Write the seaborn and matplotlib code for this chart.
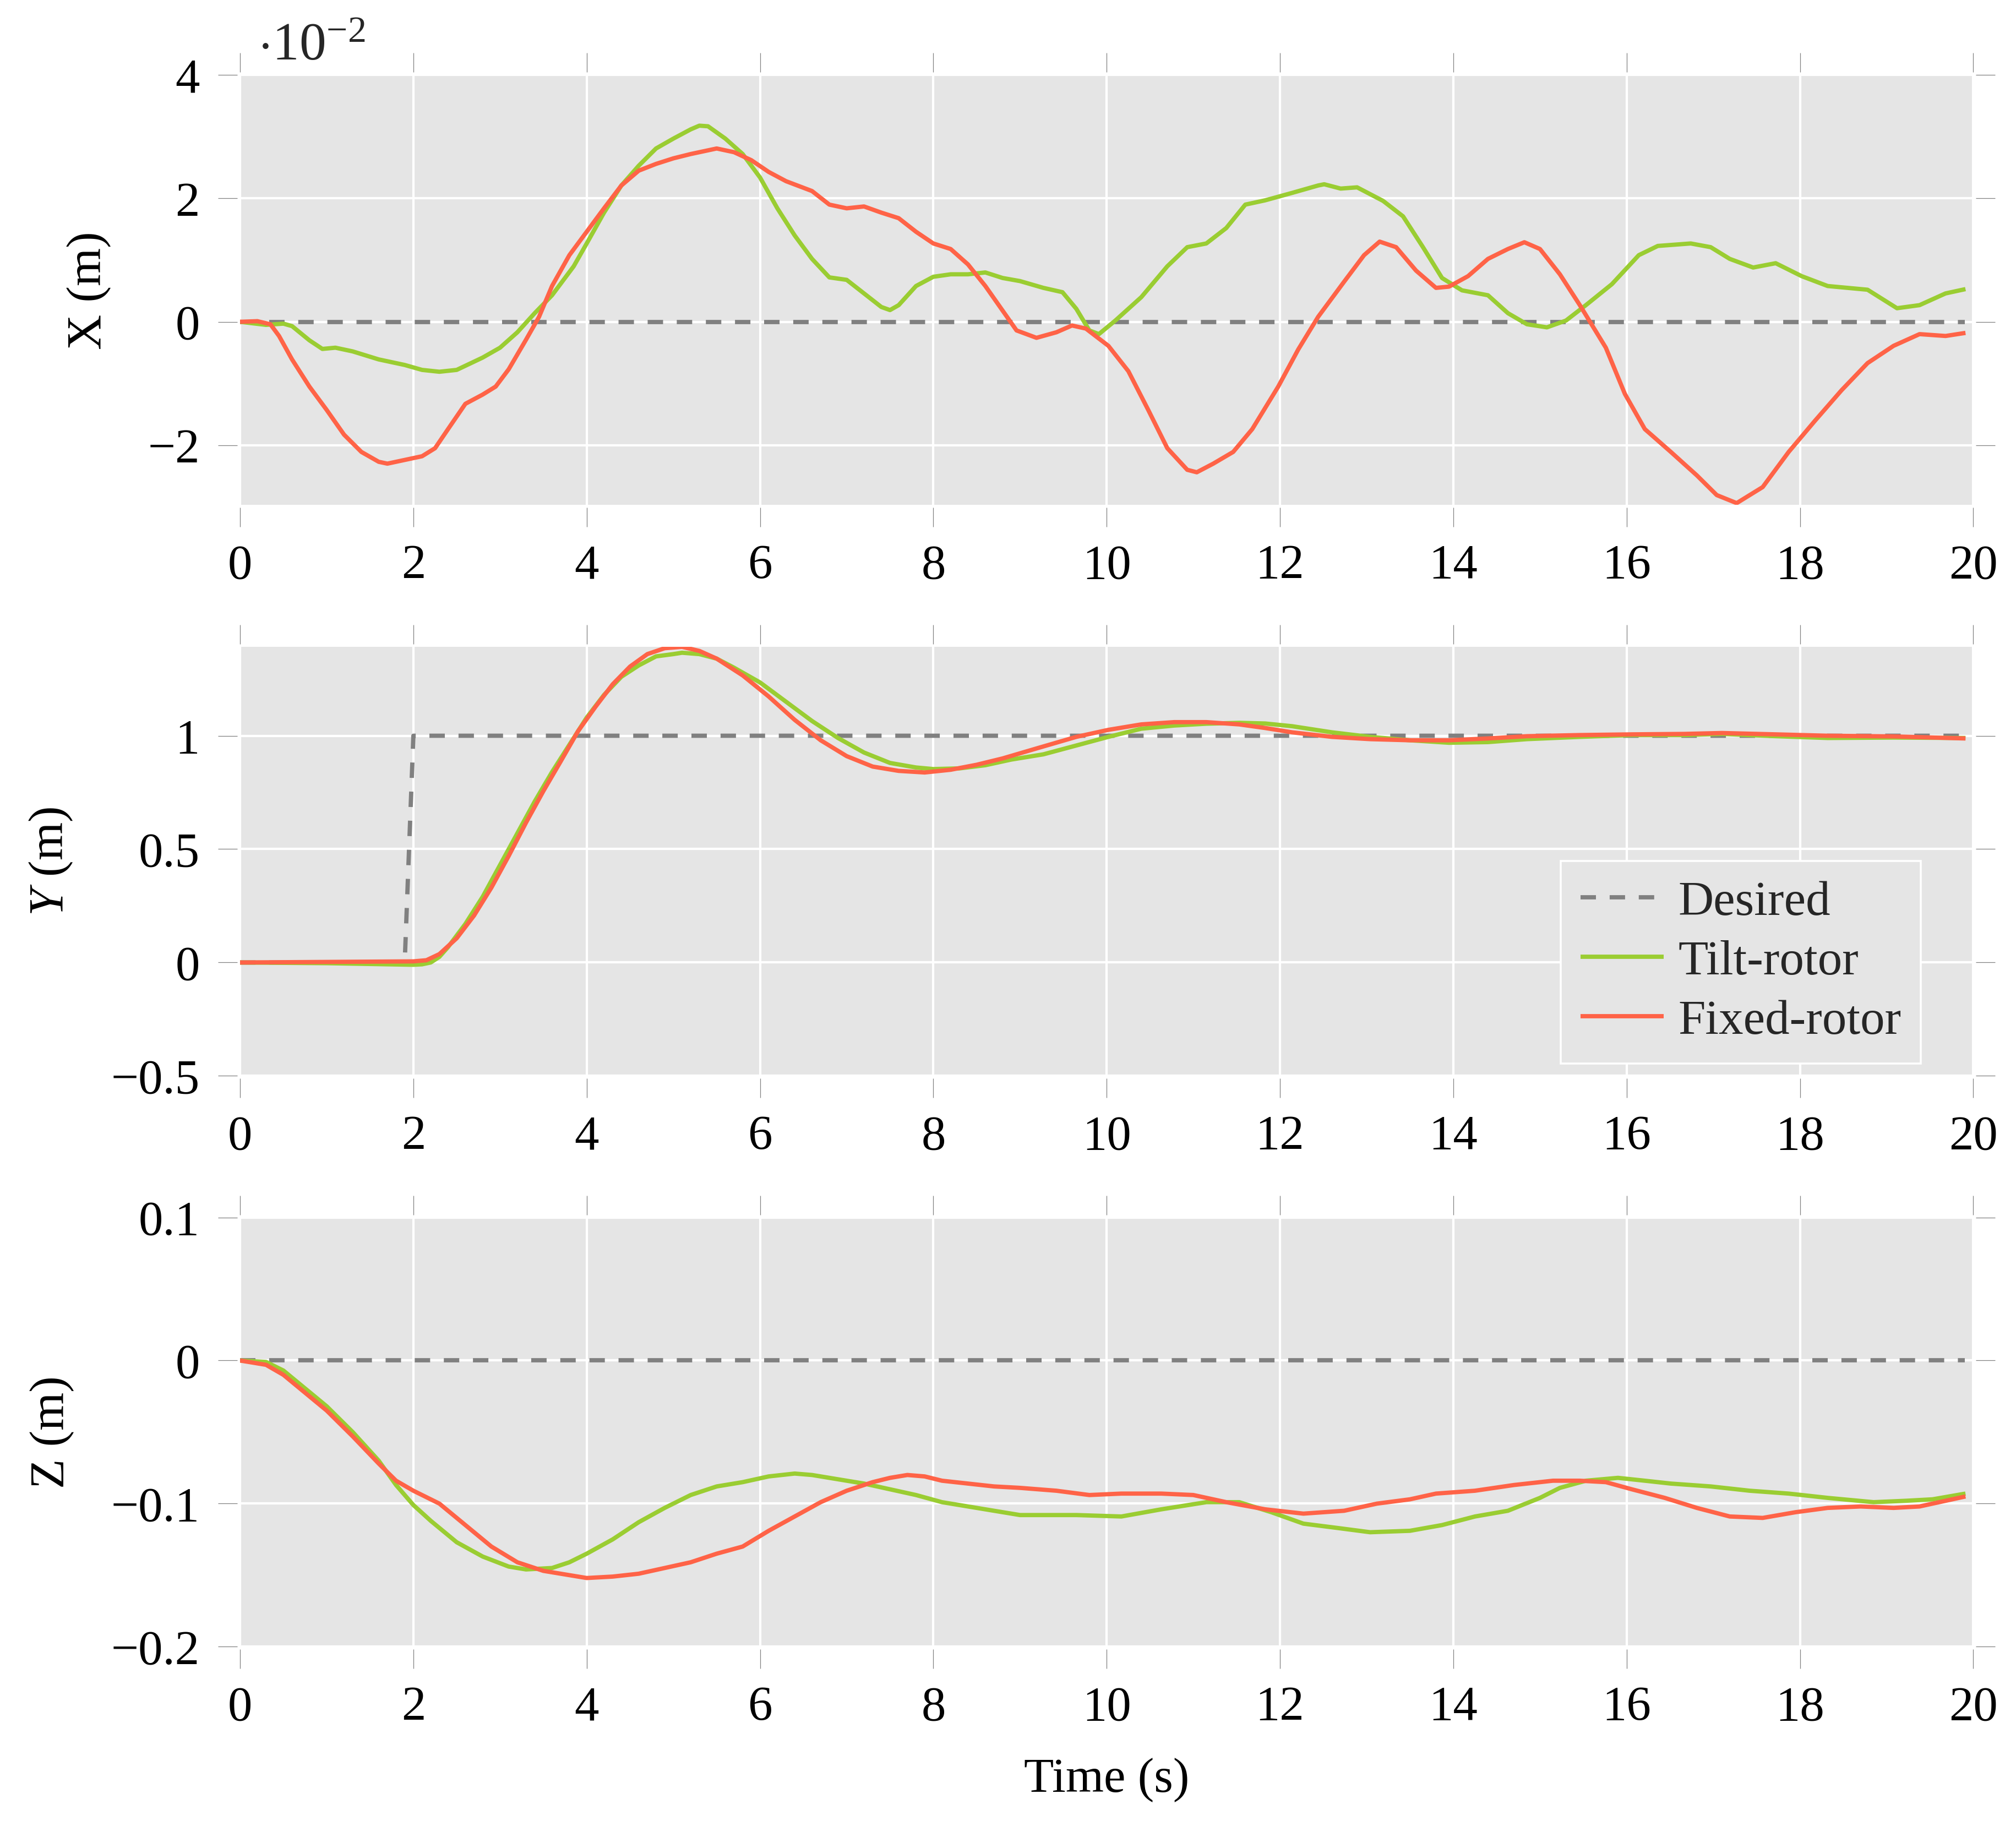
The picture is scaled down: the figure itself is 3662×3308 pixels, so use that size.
import numpy as np
import pandas as pd
import matplotlib
matplotlib.use('Agg')
import matplotlib.pyplot as plt
import seaborn as sns

# ---------------- data ----------------
# X position (values in units of 1e-2 m)
x_tilt_t = [0, 0.3, 0.5, 0.6, 0.8, 0.95, 1.1, 1.3, 1.6, 1.9, 2.1, 2.3, 2.5, 2.8, 3.0, 3.2, 3.4, 3.6,
            3.85, 4.0, 4.2, 4.4, 4.6, 4.8, 5.0, 5.2, 5.3, 5.4, 5.6, 5.8, 6.0, 6.2, 6.4, 6.6, 6.8, 7.0,
            7.2, 7.4, 7.5, 7.6, 7.8, 8.0, 8.2, 8.4, 8.6, 8.8, 9.0, 9.27, 9.49, 9.65, 9.8, 9.91, 10.1,
            10.4, 10.7, 10.93, 11.15, 11.38, 11.6, 11.83, 12.14, 12.44, 12.51, 12.7, 12.89, 13.19,
            13.42, 13.65, 13.87, 14.1, 14.4, 14.63, 14.85, 15.08, 15.3, 15.53, 15.83, 16.14, 16.36,
            16.74, 16.97, 17.19, 17.46, 17.72, 18.02, 18.32, 18.78, 19.12, 19.38, 19.68, 19.91]
x_tilt = [0, -0.05, -0.03, -0.07, -0.3, -0.44, -0.42, -0.48, -0.61, -0.7, -0.78, -0.81, -0.78, -0.58,
          -0.42, -0.17, 0.14, 0.43, 0.9, 1.27, 1.77, 2.21, 2.53, 2.81, 2.97, 3.12, 3.18, 3.17, 2.97,
          2.72, 2.34, 1.84, 1.4, 1.02, 0.72, 0.68, 0.46, 0.24, 0.19, 0.27, 0.58, 0.73, 0.77, 0.77,
          0.8, 0.71, 0.66, 0.55, 0.48, 0.21, -0.14, -0.2, 0.02, 0.4, 0.9, 1.21, 1.27, 1.52, 1.9,
          1.97, 2.09, 2.21, 2.23, 2.16, 2.18, 1.96, 1.71, 1.21, 0.71, 0.51, 0.43, 0.14, -0.04,
          -0.09, 0.02, 0.27, 0.61, 1.08, 1.23, 1.27, 1.21, 1.02, 0.88, 0.95, 0.74, 0.58, 0.52,
          0.22, 0.27, 0.46, 0.53]

x_fixed_t = [0, 0.2, 0.35, 0.45, 0.6, 0.8, 1.0, 1.2, 1.4, 1.6, 1.7, 1.9, 2.1, 2.25, 2.4, 2.6, 2.8,
             2.95, 3.1, 3.3, 3.45, 3.6, 3.8, 4.0, 4.2, 4.4, 4.6, 4.8, 5.0, 5.2, 5.5, 5.7, 5.9, 6.1,
             6.3, 6.6, 6.8, 7.0, 7.2, 7.4, 7.6, 7.8, 8.0, 8.2, 8.4, 8.6, 8.8, 8.96, 9.19, 9.42, 9.6,
             9.76, 10.02, 10.25, 10.48, 10.7, 10.93, 11.04, 11.23, 11.46, 11.68, 11.98, 12.21,
             12.44, 12.74, 12.97, 13.15, 13.34, 13.57, 13.8, 13.95, 14.17, 14.4, 14.63, 14.82,
             15.0, 15.23, 15.46, 15.76, 15.98, 16.21, 16.51, 16.81, 17.04, 17.27, 17.57, 17.87,
             18.17, 18.48, 18.78, 19.08, 19.38, 19.68, 19.91]
x_fixed = [0, 0.01, -0.04, -0.23, -0.61, -1.05, -1.43, -1.83, -2.11, -2.27, -2.3, -2.24, -2.18,
           -2.05, -1.74, -1.33, -1.18, -1.05, -0.77, -0.29, 0.08, 0.58, 1.08, 1.46, 1.84, 2.21,
           2.45, 2.56, 2.65, 2.72, 2.81, 2.75, 2.62, 2.43, 2.28, 2.12, 1.9, 1.84, 1.87, 1.77,
           1.68, 1.46, 1.27, 1.18, 0.93, 0.58, 0.18, -0.14, -0.26, -0.17, -0.06, -0.11, -0.39,
           -0.8, -1.43, -2.05, -2.4, -2.44, -2.3, -2.11, -1.74, -1.05, -0.45, 0.08, 0.65, 1.08,
           1.3, 1.21, 0.83, 0.55, 0.57, 0.74, 1.02, 1.18, 1.29, 1.18, 0.77, 0.27, -0.42, -1.17,
           -1.74, -2.11, -2.49, -2.81, -2.94, -2.68, -2.11, -1.61, -1.11, -0.67, -0.39, -0.2,
           -0.23, -0.18]

x_des_t = [0, 19.9]
x_des = [0, 0]

# Y position (m)
y_tilt_t = [0, 1.0, 2.0, 2.1, 2.2, 2.3, 2.4, 2.6, 2.8, 3.0, 3.2, 3.4, 3.6, 3.8, 4.0, 4.2, 4.4, 4.6,
            4.8, 5.0, 5.1, 5.3, 5.5, 5.7, 6.0, 6.3, 6.6, 6.9, 7.2, 7.5, 7.8, 8.0, 8.3, 8.6, 8.9,
            9.27, 9.65, 10.02, 10.4, 10.78, 11.15, 11.53, 11.83, 12.14, 12.6, 13.04, 13.5, 13.95,
            14.4, 14.85, 15.46, 16.06, 16.66, 17.1, 17.72, 18.32, 19.08, 19.91]
y_tilt = [0, -0.003, -0.01, -0.008, 0.0, 0.025, 0.068, 0.17, 0.29, 0.43, 0.57, 0.71, 0.84, 0.96,
          1.08, 1.18, 1.26, 1.31, 1.35, 1.36, 1.366, 1.36, 1.34, 1.30, 1.235, 1.15, 1.065, 0.99,
          0.926, 0.88, 0.86, 0.853, 0.856, 0.87, 0.895, 0.918, 0.957, 0.995, 1.031, 1.045,
          1.053, 1.057, 1.054, 1.042, 1.015, 0.995, 0.98, 0.969, 0.972, 0.985, 0.995, 1.003,
          1.003, 1.008, 0.998, 0.99, 0.992, 0.99]

y_fixed_t = [0, 2.0, 2.15, 2.3, 2.5, 2.7, 2.9, 3.1, 3.3, 3.5, 3.7, 3.9, 4.1, 4.3, 4.5, 4.7, 4.9,
             5.1, 5.3, 5.5, 5.8, 6.1, 6.4, 6.7, 7.0, 7.3, 7.6, 7.9, 8.2, 8.5, 8.8, 9.2, 9.65,
             10.02, 10.4, 10.78, 11.15, 11.53, 11.83, 12.14, 12.6, 13.04, 13.5, 13.95, 14.4,
             14.85, 15.46, 16.06, 16.66, 17.1, 17.72, 18.32, 19.08, 19.91]
y_fixed = [0, 0.005, 0.01, 0.037, 0.107, 0.207, 0.33, 0.47, 0.617, 0.756, 0.887, 1.02, 1.127,
           1.227, 1.305, 1.36, 1.386, 1.392, 1.374, 1.34, 1.266, 1.173, 1.07, 0.98, 0.91, 0.864,
           0.845, 0.838, 0.85, 0.872, 0.90, 0.945, 0.995, 1.026, 1.05, 1.06, 1.06, 1.05, 1.034,
           1.015, 0.995, 0.985, 0.98, 0.98, 0.988, 0.998, 1.003, 1.006, 1.008, 1.012, 1.006,
           1.0, 0.997, 0.988]

y_des_t = [0, 1.9, 2.0, 19.9]
y_des = [0, 0, 1, 1]

# Z position (m)
z_tilt_t = [0, 0.3, 0.5, 0.8, 1.0, 1.3, 1.6, 1.8, 2.0, 2.2, 2.5, 2.8, 3.1, 3.3, 3.6, 3.8, 4.0, 4.3,
            4.6, 4.9, 5.2, 5.5, 5.8, 6.1, 6.4, 6.6, 6.9, 7.2, 7.5, 7.8, 8.1, 8.4, 8.7, 9.0, 9.65,
            10.17, 10.63, 11.15, 11.53, 11.9, 12.27, 12.66, 13.04, 13.5, 13.87, 14.25, 14.63,
            15.0, 15.23, 15.53, 15.9, 16.21, 16.51, 16.97, 17.42, 17.87, 18.32, 18.85, 19.23,
            19.53, 19.91]
z_tilt = [0, -0.001, -0.007, -0.022, -0.032, -0.05, -0.07, -0.087, -0.101, -0.112, -0.127,
          -0.137, -0.144, -0.146, -0.145, -0.141, -0.135, -0.125, -0.113, -0.103, -0.094,
          -0.088, -0.085, -0.081, -0.079, -0.08, -0.083, -0.086, -0.09, -0.094, -0.099, -0.102,
          -0.105, -0.108, -0.108, -0.109, -0.104, -0.099, -0.099, -0.106, -0.114, -0.117,
          -0.12, -0.119, -0.115, -0.109, -0.105, -0.096, -0.089, -0.084, -0.082, -0.084,
          -0.086, -0.088, -0.091, -0.093, -0.096, -0.099, -0.098, -0.097, -0.093]

z_fixed_t = [0, 0.3, 0.5, 0.8, 1.0, 1.3, 1.6, 1.8, 2.0, 2.3, 2.6, 2.9, 3.2, 3.5, 3.8, 4.0, 4.3,
             4.6, 4.9, 5.2, 5.5, 5.8, 6.1, 6.4, 6.7, 7.0, 7.3, 7.5, 7.7, 7.9, 8.1, 8.4, 8.7, 9.0,
             9.42, 9.8, 10.17, 10.63, 11.0, 11.38, 11.83, 12.27, 12.74, 13.12, 13.5, 13.8,
             14.25, 14.7, 15.15, 15.46, 15.76, 16.06, 16.44, 16.81, 17.19, 17.57, 17.95, 18.32,
             18.7, 19.08, 19.38, 19.91]
z_fixed = [0, -0.003, -0.01, -0.025, -0.035, -0.053, -0.072, -0.084, -0.091, -0.1, -0.115,
           -0.13, -0.141, -0.147, -0.15, -0.152, -0.151, -0.149, -0.145, -0.141, -0.135, -0.13,
           -0.119, -0.109, -0.099, -0.091, -0.085, -0.082, -0.08, -0.081, -0.084, -0.086,
           -0.088, -0.089, -0.091, -0.094, -0.093, -0.093, -0.094, -0.099, -0.104, -0.107,
           -0.105, -0.1, -0.097, -0.093, -0.091, -0.087, -0.084, -0.084, -0.085, -0.09, -0.096,
           -0.103, -0.109, -0.11, -0.106, -0.103, -0.102, -0.103, -0.102, -0.095]

z_des_t = [0, 19.9]
z_des = [0, 0]

x_ticks = list(range(0, 21, 2))
x_ticklabels = [str(v) for v in x_ticks]
xpos_ticks = [-2, 0, 2, 4]
xpos_ticklabels = ['\u22122', '0', '2', '4']
ypos_ticks = [-0.5, 0, 0.5, 1]
ypos_ticklabels = ['\u22120.5', '0', '0.5', '1']
zpos_ticks = [-0.2, -0.1, 0, 0.1]
zpos_ticklabels = ['\u22120.2', '\u22120.1', '0', '0.1']

labels = ['Desired', 'Tilt-rotor', 'Fixed-rotor']

# ---------------- style ----------------
BG = '#E5E5E5'
C_DES = '#808080'
C_TILT = '#9ACD32'
C_FIX = '#FF6347'
FS = 32

sns.set_theme(style='darkgrid', rc={'axes.facecolor': BG, 'grid.color': 'white'})
plt.rcParams['font.family'] = ['Liberation Serif', 'DejaVu Serif']
plt.rcParams['mathtext.fontset'] = 'custom'
plt.rcParams['mathtext.rm'] = 'Liberation Serif'
plt.rcParams['mathtext.it'] = 'Liberation Serif:italic'
plt.rcParams['axes.unicode_minus'] = True
plt.rcParams['lines.scale_dashes'] = True

W, H = 3662, 3308
DPI = 200
fig = plt.figure(figsize=((W + 0.4) / DPI, (H + 0.4) / DPI), dpi=DPI)
fig.patch.set_facecolor('white')

left = 436 / W
width = (3584 - 436) / W
boxes = [(917.6, 136.8), (1954.6, 1175.3), (2991.4, 2211.7)]
axes = []
for bot, top in boxes:
    ax = fig.add_axes([left, 1 - bot / H, width, (bot - top) / H])
    axes.append(ax)

LW = 2.8
dash = (3.6, 3.2)

def draw(ax, des_t, des, tilt_t, tilt, fix_t, fix, legend=False):
    sns.lineplot(x=des_t, y=des, ax=ax, color=C_DES, linewidth=LW,
                 label=labels[0] if legend else None, sort=False, estimator=None)
    ax.lines[-1].set_dashes(dash)
    sns.lineplot(x=tilt_t, y=tilt, ax=ax, color=C_TILT, linewidth=LW,
                 label=labels[1] if legend else None, sort=False, estimator=None)
    sns.lineplot(x=fix_t, y=fix, ax=ax, color=C_FIX, linewidth=LW,
                 label=labels[2] if legend else None, sort=False, estimator=None)
    for ln in ax.lines:
        ln.set_linewidth(LW)
        ln.set_solid_joinstyle('round')
        ln.set_solid_capstyle('butt')
        ln.set_dash_capstyle('butt')

draw(axes[0], x_des_t, x_des, x_tilt_t, x_tilt, x_fixed_t, x_fixed)
draw(axes[1], y_des_t, y_des, y_tilt_t, y_tilt, y_fixed_t, y_fixed, legend=True)
draw(axes[2], z_des_t, z_des, z_tilt_t, z_tilt, z_fixed_t, z_fixed)

ylims = [(-2.97, 4), (-0.5, 1.392), (-0.2, 0.1)]
yticks = [(xpos_ticks, xpos_ticklabels), (ypos_ticks, ypos_ticklabels), (zpos_ticks, zpos_ticklabels)]
ylabels = ['X (m)', '$Y$ (m)', 'Z (m)']

for ax, yl, (yt, ytl), ylab in zip(axes, ylims, yticks, ylabels):
    ax.set_facecolor(BG)
    ax.set_xlim(0, 20)
    ax.set_ylim(*yl)
    ax.set_xticks(x_ticks)
    ax.set_xticklabels(x_ticklabels)
    ax.set_yticks(yt)
    ax.set_yticklabels(ytl)
    ax.grid(True, color='white', lw=1.5)
    ax.set_axisbelow(True)
    for sp in ax.spines.values():
        sp.set_visible(False)
        sp.set_position(('outward', 1.8))
    ax.tick_params(axis='both', which='major', direction='out', length=12.6, width=0.45,
                   color='#808080', labelsize=FS, top=True, right=True, bottom=True, left=True,
                   labeltop=False, labelright=False, labelcolor='black')
    ax.tick_params(axis='x', pad=11)
    ax.tick_params(axis='y', pad=12)
    ax.set_ylabel(ylab, fontsize=FS, labelpad=24, color='black')
    ax.set_xlabel('')

axes[2].set_xlabel('Time (s)', fontsize=FS, labelpad=18, color='black')

leg = axes[1].legend(loc='lower right', bbox_to_anchor=(0.9698, 0.029), borderaxespad=0,
                     frameon=True, facecolor=BG, edgecolor='white', framealpha=1,
                     fancybox=False, fontsize=FS, handlelength=1.7, handletextpad=0.3,
                     borderpad=0.4, labelspacing=0.3)
leg.get_frame().set_linewidth(1.3)
for ln in leg.get_lines():
    ln.set_linewidth(LW)
leg.get_lines()[0].set_dashes(dash)

fig.text(468 / W, 1 - 108 / H, r'$\cdot 10^{-2}$', fontsize=FS + 3, ha='left', va='baseline')

fig.savefig('out.png', dpi=DPI, facecolor='white')
